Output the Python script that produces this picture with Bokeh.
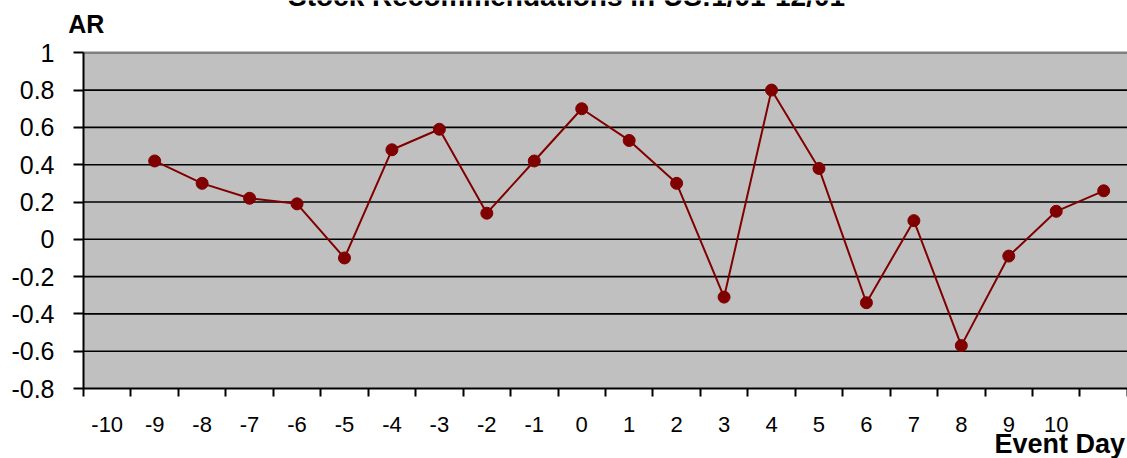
from bokeh.plotting import figure
from bokeh.models import Range1d, FixedTicker, Label, BoxAnnotation, ColumnDataSource
from bokeh.embed import file_html
from bokeh.resources import INLINE

# ---- data ----
days = list(range(-10, 11))
ar = [0.42, 0.30, 0.22, 0.19, -0.10, 0.48, 0.59, 0.14, 0.42, 0.70, 0.53,
      0.30, -0.31, 0.80, 0.38, -0.34, 0.10, -0.57, -0.09, 0.15, 0.26]
x_tick_labels = [str(d) for d in days]
y_ticks = [-0.8, -0.6, -0.4, -0.2, 0.0, 0.2, 0.4, 0.6, 0.8, 1.0]
y_tick_labels = ["-0.8", "-0.6", "-0.4", "-0.2", "0", "0.2", "0.4", "0.6", "0.8", "1"]
grid_ticks = [-0.6, -0.4, -0.2, 0.0, 0.2, 0.4, 0.6, 0.8]
y_min, y_max = -0.8, 1.0
title_text = "Stock Recommendations in US:1/01-12/01"
y_title = "AR"
x_title = "Event Day"

n_slots = len(days) + 1
# points sit one category slot to the right of their label, as in the original
slot_x = [i + 1.5 for i in range(len(days))]
src = ColumnDataSource(dict(x=slot_x, y=ar))

# ---- layout (pixels) ----
W, H = 1127, 458
PLOT_LEFT_PX, PLOT_TOP_PX = 83.0, 52.3
PX_PER_SLOT, PX_PER_UNIT = 47.45, 186.5
x_start = -PLOT_LEFT_PX / PX_PER_SLOT
x_end = (W - PLOT_LEFT_PX) / PX_PER_SLOT
y_end = y_max + PLOT_TOP_PX / PX_PER_UNIT
y_start = y_max - (H - PLOT_TOP_PX) / PX_PER_UNIT

FONT = "Liberation Sans"
RED = "#800000"

p = figure(width=W, height=H,
           x_range=Range1d(x_start, x_end), y_range=Range1d(y_start, y_end),
           output_backend="svg", toolbar_location=None,
           min_border=0, background_fill_color="white", border_fill_color="white",
           outline_line_color=None)

# grey plot area
p.add_layout(BoxAnnotation(left=0, right=None, bottom=y_min, top=y_max,
                           fill_color="#C0C0C0", fill_alpha=1.0, line_color=None,
                           level="underlay"))
p.xgrid.visible = False
p.ygrid.visible = False
n_g = len(grid_ticks)
p.segment(x0=[0] * n_g, y0=grid_ticks, x1=[x_end] * n_g, y1=grid_ticks,
          line_color="black", line_width=1.6)
p.segment(x0=[0], y0=[y_max], x1=[x_end], y1=[y_max],
          line_color="#808080", line_width=2.5)

# y axis
p.yaxis.fixed_location = 0
p.yaxis.bounds = (y_min, y_max)
p.yaxis.ticker = FixedTicker(ticks=y_ticks)
p.yaxis.major_label_overrides = {t: l for t, l in zip(y_ticks, y_tick_labels)}
p.yaxis.axis_line_color = "black"
p.yaxis.axis_line_width = 2
p.yaxis.major_tick_out = 10
p.yaxis.major_tick_in = 0
p.yaxis.major_tick_line_width = 2
p.yaxis.major_tick_line_color = "black"
p.yaxis.minor_tick_line_color = None
p.yaxis.major_label_text_font = FONT
p.yaxis.major_label_text_font_size = "25px"
p.yaxis.major_label_text_color = "black"
p.yaxis.major_label_standoff = 19

# x axis: labels at slot centres, tick marks at slot boundaries
centres = [i + 0.5 for i in range(len(days))]
p.xaxis.fixed_location = y_min
p.xaxis.bounds = (0, n_slots)
p.xaxis.ticker = FixedTicker(ticks=centres, minor_ticks=list(range(n_slots + 1)))
p.xaxis.major_label_overrides = {c: l for c, l in zip(centres, x_tick_labels)}
p.xaxis.axis_line_color = "black"
p.xaxis.axis_line_width = 2
p.xaxis.major_tick_line_color = None
p.xaxis.major_tick_out = 0
p.xaxis.major_tick_in = 0
p.xaxis.minor_tick_out = 8
p.xaxis.minor_tick_in = 0
p.xaxis.minor_tick_line_width = 2
p.xaxis.minor_tick_line_color = "black"
p.xaxis.major_label_text_font = FONT
p.xaxis.major_label_text_font_size = "22px"
p.xaxis.major_label_text_color = "black"
p.xaxis.major_label_standoff = 20

# series
p.line("x", "y", source=src, line_color=RED, line_width=2)
p.scatter("x", "y", source=src, size=12, fill_color=RED, line_color=RED)

# texts
p.add_layout(Label(x=10.18, y=1.302, text=title_text, text_font=FONT,
                   text_font_size="28px", text_font_style="bold",
                   text_align="center", text_baseline="alphabetic", text_color="black"))
p.add_layout(Label(x=-0.32, y=1.152, text=y_title, text_font=FONT,
                   text_font_size="25px", text_font_style="bold",
                   text_align="left", text_baseline="alphabetic", text_color="black"))
p.add_layout(Label(x=21.95, y=-1.096, text=x_title, text_font=FONT,
                   text_font_size="27px", text_font_style="bold",
                   text_align="right", text_baseline="alphabetic", text_color="black"))

open("out.html", "w").write(file_html(p, INLINE))
